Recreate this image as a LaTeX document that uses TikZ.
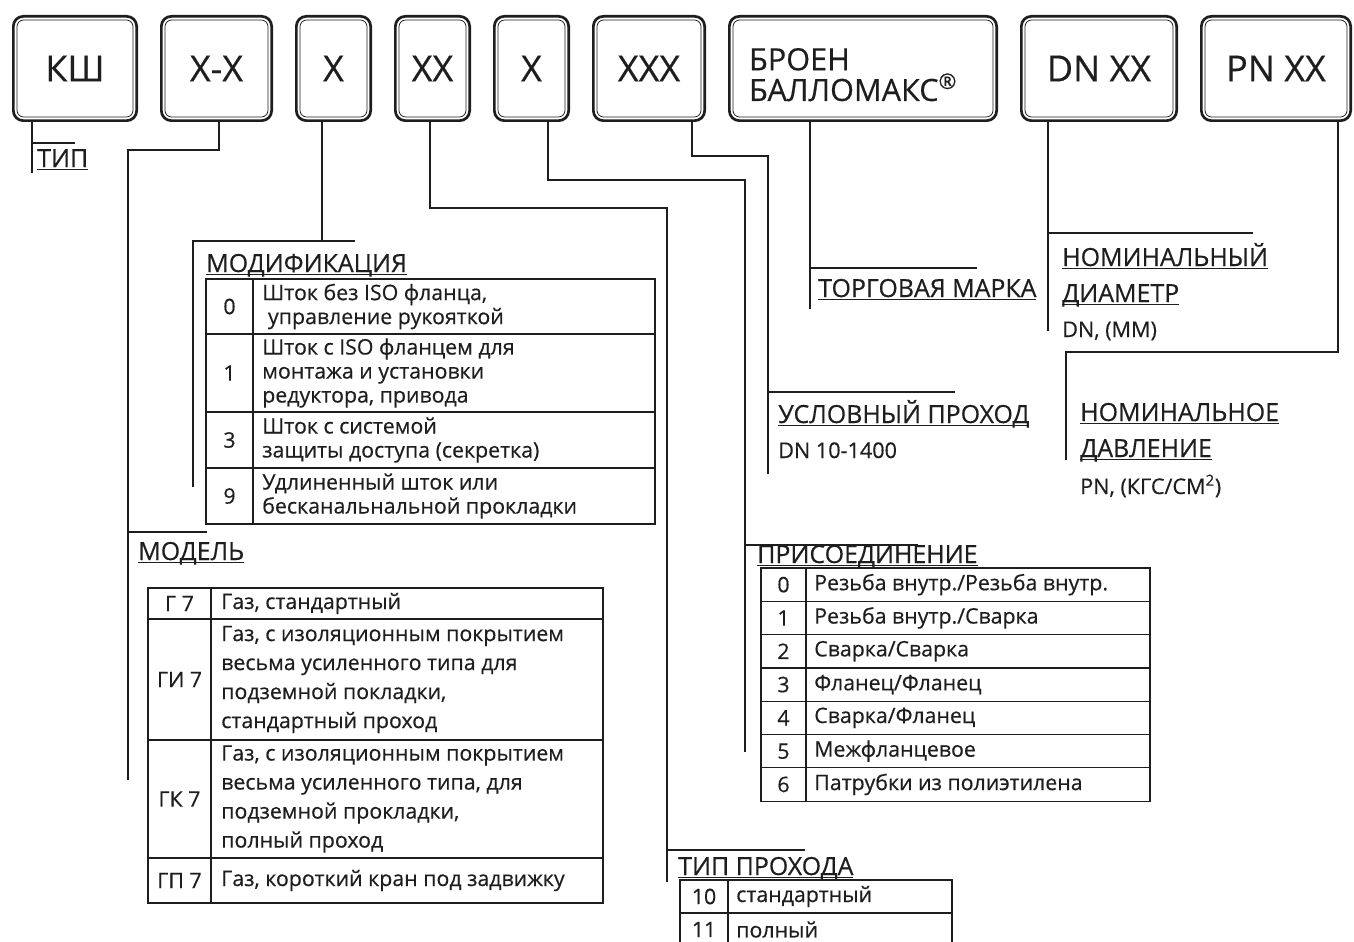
\documentclass[tikz,border=0pt]{standalone}
\usepackage{fontspec}
\setmainfont{Open Sans}[FakeBold=0.4]
\usetikzlibrary{positioning}
\definecolor{ink}{HTML}{1E1E1E}
\newcommand{\heading}[1]{\underline{\raisebox{0pt}[\height][0pt]{#1}}}

\begin{document}
\begin{tikzpicture}[
  x=0.75pt, y=-0.75pt,
  node distance=16.5pt,
  every node/.style={inner sep=0pt, text=ink, font=\fontsize{16}{18}\selectfont},
  keybox/.style={draw=ink, line width=2pt, rounded corners=7.5pt, minimum height=78.25pt, font=\fontsize{27}{30}\selectfont},
  rim/.style={draw=ink, line width=0.6pt, rounded corners=5pt},
  wire/.style={draw=ink, line width=0.9pt},
  tabline/.style={draw=ink, line width=0.9pt},
  tag/.style={anchor=base west, font=\fontsize{18.7}{27}\selectfont},
  note/.style={anchor=base west, font=\fontsize{16.2}{18}\selectfont},
  cellnote/.style={anchor=west, align=left}
]
\useasboundingbox (0,0) rectangle (1354,942);

\node[keybox, minimum width=92.5pt] (kw) at (75,68.5) {КШ};
\node[keybox, minimum width=82.75pt, right=of kw] (mdl) {X-X};
\node[keybox, minimum width=55.75pt, right=of mdl] (mod) {X};
\node[keybox, minimum width=55.75pt, right=of mod] (pass) {XX};
\node[keybox, minimum width=55.75pt, right=of pass] (con) {X};
\node[keybox, minimum width=83.5pt, right=of con] (dnr) {XXX};
\node[keybox, minimum width=200.5pt, text width=171pt, inner xsep=14.75pt, align=left,
      font=\fontsize{23}{23}\selectfont, right=of dnr] (brand) {\rule{0pt}{26pt}БРОЕН\\БАЛЛОМАКС\textsuperscript{®}};
\node[keybox, minimum width=116.5pt, right=of brand] (dn) {DN XX};
\node[keybox, minimum width=112pt, right=of dn] (pn) {PN XX};
\foreach \n in {kw,mdl,mod,pass,con,dnr,brand,dn,pn}
  \draw[rim] ([shift={(5,5)}]\n.north west) rectangle ([shift={(-5,-5)}]\n.south east);

\draw[wire] (kw.south -| 32,0) -- (32,173) (32,143) -- (75,143);
\draw[wire] (mdl.south -| 219,0) |- (128,150) -- (128,780) (128,532) -- (207,532);
\draw[wire] (mod.south -| 322,0) -- (322,241) (193,487) -- (193,241) -- (355,241);
\draw[wire] (pass.south -| 430,0) |- (667,208) -- (667,882) (667,850) -- (805,850);
\draw[wire] (con.south -| 548,0) |- (745,180) -- (745,752) (745,545) -- (918,545);
\draw[wire] (dnr.south -| 692,0) |- (768,156) -- (768,474) (768,392) -- (955,392);
\draw[wire] (brand.south -| 810,0) -- (810,309) (810,268) -- (977,268);
\draw[wire] (dn.south -| 1048,0) -- (1048,331) (1048,233) -- (1253,233);
\draw[wire] (pn.south -| 1338,0) |- (1066,352) -- (1066,460);

\node[tag] (tiptag) at (37,167) {\heading{ТИП}};
\node[tag] (mdftag) at (206,272) {\heading{МОДИФИКАЦИЯ}};
\node[tag] (mdltag) at (138,560) {\heading{МОДЕЛЬ}};
\node[tag] (passtag) at (678,875) {\heading{ТИП ПРОХОДА}};
\node[tag] (contag) at (757,563) {\heading{ПРИСОЕДИНЕНИЕ}};
\node[tag] (dnrtag) at (778,423) {\heading{УСЛОВНЫЙ ПРОХОД}};
\node[note] (dnrval) at (778,458) {DN 10-1400};
\node[tag] (brandtag) at (818,297) {\heading{ТОРГОВАЯ МАРКА}};
\node[tag] (dntag) at (1062,266) {\heading{НОМИНАЛЬНЫЙ}};
\node[tag] (dntagb) at (1062,302) {\heading{ДИАМЕТР}};
\node[note] (dnval) at (1062,337) {DN, (ММ)};
\node[tag] (pntag) at (1080,421) {\heading{НОМИНАЛЬНОЕ}};
\node[tag] (pntagb) at (1080,457) {\heading{ДАВЛЕНИЕ}};
\node[note] (pnval) at (1080,494) {PN, (КГС/СМ\textsuperscript{2})};

\foreach \ya/\yb/\code/\desc [count=\i] in {
  279/334/0/{Шток без ISO фланца,\\\hspace*{0.27em}управление рукояткой},
  334/412/1/{Шток с ISO фланцем для\\монтажа и установки\\редуктора, привода},
  412/468/3/{Шток с системой\\защиты доступа (секретка)},
  468/524/9/{Удлиненный шток или\\бесканальнальной прокладки}}
{
  \draw[tabline] (206,\ya) rectangle (655,\yb) (253,\ya) -- (253,\yb);
  \node (mfk\i) at (229.5,{(\ya+\yb)/2}) {\code};
  \node[cellnote] (mft\i) at (262,{(\ya+\yb)/2}) {\desc};
}

\foreach \ya/\yb/\code/\desc [count=\i] in {
  588/619/{Г 7}/{Газ, стандартный},
  619/740/{ГИ 7}/{Газ, с изоляционным покрытием\\весьма усиленного типа для\\подземной покладки,\\стандартный проход},
  740/858/{ГК 7}/{Газ, с изоляционным покрытием\\весьма усиленного типа, для\\подземной прокладки,\\полный проход},
  858/903/{ГП 7}/{Газ, короткий кран под задвижку}}
{
  \draw[tabline] (148,\ya) rectangle (603,\yb) (211,\ya) -- (211,\yb);
  \node (gk\i) at (179.5,{(\ya+\yb)/2}) {\code};
  \node[cellnote, font=\fontsize{16}{21.75}\selectfont] (gt\i) at (221,{(\ya+\yb)/2}) {\desc};
}

\foreach \desc [count=\i from 0] in {{Резьба внутр./Резьба внутр.}, {Резьба внутр./Сварка},
  {Сварка/Сварка}, {Фланец/Фланец}, {Сварка/Фланец}, {Межфланцевое}, {Патрубки из полиэтилена}}
{
  \draw[tabline] (761,568+33.3*\i) rectangle (1150,601.3+33.3*\i) (806,568+33.3*\i) -- (806,601.3+33.3*\i);
  \node (cnk\i) at (783.5,584.65+33.3*\i) {\i};
  \node[cellnote] (cnt\i) at (814,584.65+33.3*\i) {\desc};
}

\foreach \code/\desc [count=\i from 0] in {10/стандартный, 11/полный}
{
  \draw[tabline] (680,880+33*\i) rectangle (952,913+33*\i) (728,880+33*\i) -- (728,913+33*\i);
  \node (ptk\i) at (704,896.5+33*\i) {\code};
  \node[cellnote] (ptt\i) at (736,896.5+33*\i) {\desc};
}
\end{tikzpicture}
\end{document}
